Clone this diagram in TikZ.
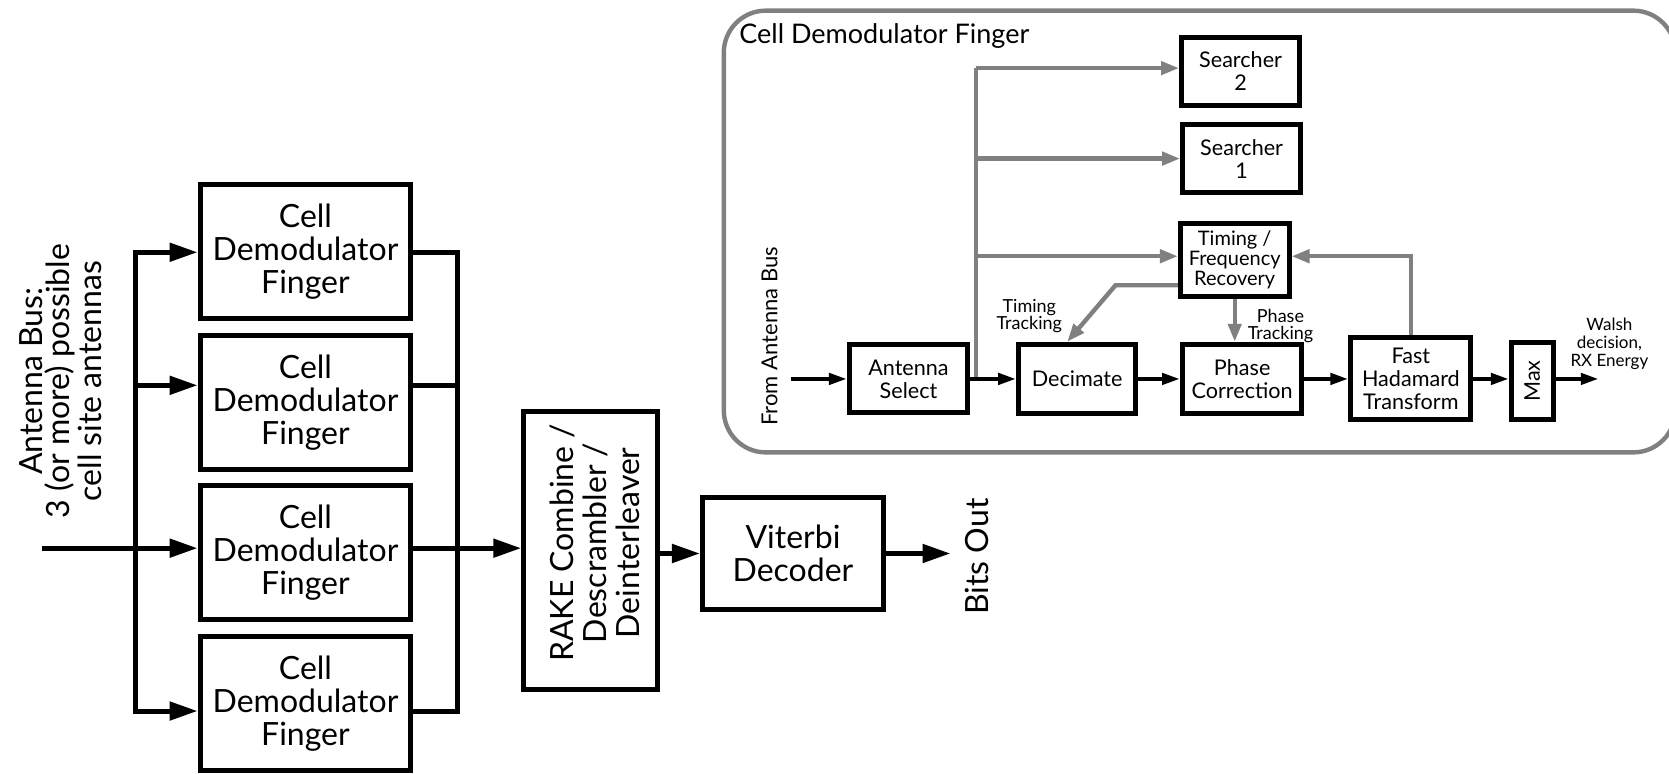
\documentclass[tikz,border=0pt]{standalone}
\usepackage{fontspec}
\setmainfont{Lato}
\usetikzlibrary{arrows.meta}
\definecolor{flowgray}{RGB}{128,128,128}
\begin{document}
\begin{tikzpicture}[x=0.5322pt, y=-0.5322pt,
    blk/.style={draw, line width=2.5pt, align=center, inner sep=0pt, font=\fontsize{16}{16.5}\selectfont},
    iblk/.style={draw, line width=2.5pt, align=center, inner sep=0pt, font=\fontsize{10.8}{11.5}\selectfont},
    bigfont/.style={font=\fontsize{16}{16.5}\selectfont},
    tinyfont/.style={font=\fontsize{9}{8.5}\selectfont},
    wire/.style={line width=2.5pt, line cap=rect},
    bigarrow/.style={line width=2.5pt, -{Triangle[length=14pt,width=9pt]}},
    sigarrow/.style={line width=2.1pt, -{Triangle[length=9pt,width=5.5pt]}},
    ctlline/.style={flowgray, line width=2.2pt},
    ctlarrow/.style={flowgray, line width=2.2pt, -{Triangle[length=9pt,width=6.5pt]}}]
    \useasboundingbox (0,0) rectangle (1568,727);
    \foreach \i/\y in {1/236, 2/378, 3/519, 4/661}{
        \node[blk, minimum width=105.4pt, minimum height=67pt] (f\i) at (287,\y) {Cell\\Demodulator\\Finger};
    }
    \foreach \i/\y in {1/237, 2/362, 3/515, 4/668}{
        \coordinate (b\i) at (127,\y);
        \coordinate (c\i) at (430,\y);
    }
    \coordinate (busin) at (42,515);
    \node[rotate=90, align=center, font=\fontsize{16}{13.5}\selectfont] (busLabel) at (57,358) {Antenna Bus:\\3 (or more) possible\\cell site antennas};
    \node[blk, minimum width=67pt, minimum height=139pt] (rake) at (555,517.5) {};
    \node[rotate=90, align=center, bigfont] (rakeLabel) at (559,510) {RAKE Combine /\\Descrambler /\\Deinterleaver};
    \node[blk, minimum width=90.5pt, minimum height=56.4pt] (viterbi) at (745,520) {Viterbi\\Decoder};
    \coordinate (bits) at (893,520);
    \node[rotate=90, bigfont] (bitsLabel) at (918,523) {Bits Out};

    \draw[wire] (b1) -- (b4);
    \draw[wire] (busin) -- (b3);
    \foreach \i in {1,...,4}{
        \draw[bigarrow] (b\i) -- (f\i.west |- b\i);
        \draw[wire] (f\i.east |- c\i) -- (c\i);
    }
    \draw[wire] (c1) -- (c4);
    \draw[bigarrow] (c3) -- (rake.west |- c3);
    \draw[bigarrow] (rake.east |- viterbi.west) -- (viterbi.west);
    \draw[bigarrow] (viterbi.east) -- (bits);

    \draw[flowgray, line width=2.2pt, rounded corners=21pt] (680,10) rectangle (1574,425);
    \node[anchor=west, font=\fontsize{13.5}{15}\selectfont] (finTitle) at (688,34) {Cell Demodulator Finger};
    \node[rotate=90, font=\fontsize{11}{12}\selectfont] (fromBus) at (723,316) {From Antenna Bus};
    \node[iblk, minimum width=59pt, minimum height=34pt] (antsel) at (853.5,356) {Antenna\\Select};
    \node[iblk, minimum width=58.5pt, minimum height=34.6pt] (decim) at (1012,356) {Decimate};
    \node[iblk, minimum width=59.6pt, minimum height=34.6pt] (phase) at (1167,356) {Phase\\Correction};
    \node[iblk, minimum width=60pt, minimum height=41pt] (fht) at (1325.5,356) {Fast\\Hadamard\\Transform};
    \node[iblk, minimum width=20.8pt, minimum height=38.3pt] (max) at (1439.5,358) {};
    \node[rotate=90, font=\fontsize{10.8}{11.5}\selectfont] (maxLabel) at (max.center) {Max};
    \node[iblk, minimum width=59pt, minimum height=34pt] (search2) at (1165.5,67) {Searcher\\2};
    \node[iblk, minimum width=59pt, minimum height=34pt] (search1) at (1166.5,149) {Searcher\\1};
    \node[iblk, minimum width=54.3pt, minimum height=36.7pt, font=\fontsize{10}{10}\selectfont] (timing) at (1160,244.5) {Timing /\\Frequency\\Recovery};
    \node[tinyfont, align=center] (timTrack) at (967,297) {Timing\\Tracking};
    \node[tinyfont, align=center] (phTrack) at (1203,306) {Phase\\Tracking};
    \node[font=\fontsize{8.5}{9}\selectfont, align=center] (walsh) at (1512,323) {Walsh\\decision,\\RX Energy};
    \coordinate (in2) at (743,356);
    \coordinate (out2) at (1502,356);
    \coordinate (tap) at (917,356);
    \coordinate (tapTop) at (917,64);
    \coordinate (bend) at (1048,268);

    \draw[ctlline] (tap) -- (tapTop);
    \draw[ctlarrow] (tapTop) -- (search2.west |- tapTop);
    \draw[ctlarrow] (tap |- search1.west) -- (search1.west);
    \draw[ctlarrow] ([yshift=2pt]tap |- timing.west) -- ([yshift=2pt]timing.west);
    \draw[ctlarrow] (fht.north) |- ([yshift=2pt]timing.east);
    \draw[ctlarrow] (timing.west |- bend) -- (bend) -- ([xshift=-5pt]decim.north);
    \draw[ctlarrow] (timing.south) -- (timing.south |- phase.north);

    \draw[sigarrow] (in2) -- (antsel.west);
    \draw[sigarrow] (antsel.east) -- (decim.west);
    \draw[sigarrow] (decim.east) -- (phase.west);
    \draw[sigarrow] (phase.east) -- (fht.west);
    \draw[sigarrow] (fht.east) -- (max.west |- fht.east);
    \draw[sigarrow] (max.east |- out2) -- (out2);
\end{tikzpicture}
\end{document}
